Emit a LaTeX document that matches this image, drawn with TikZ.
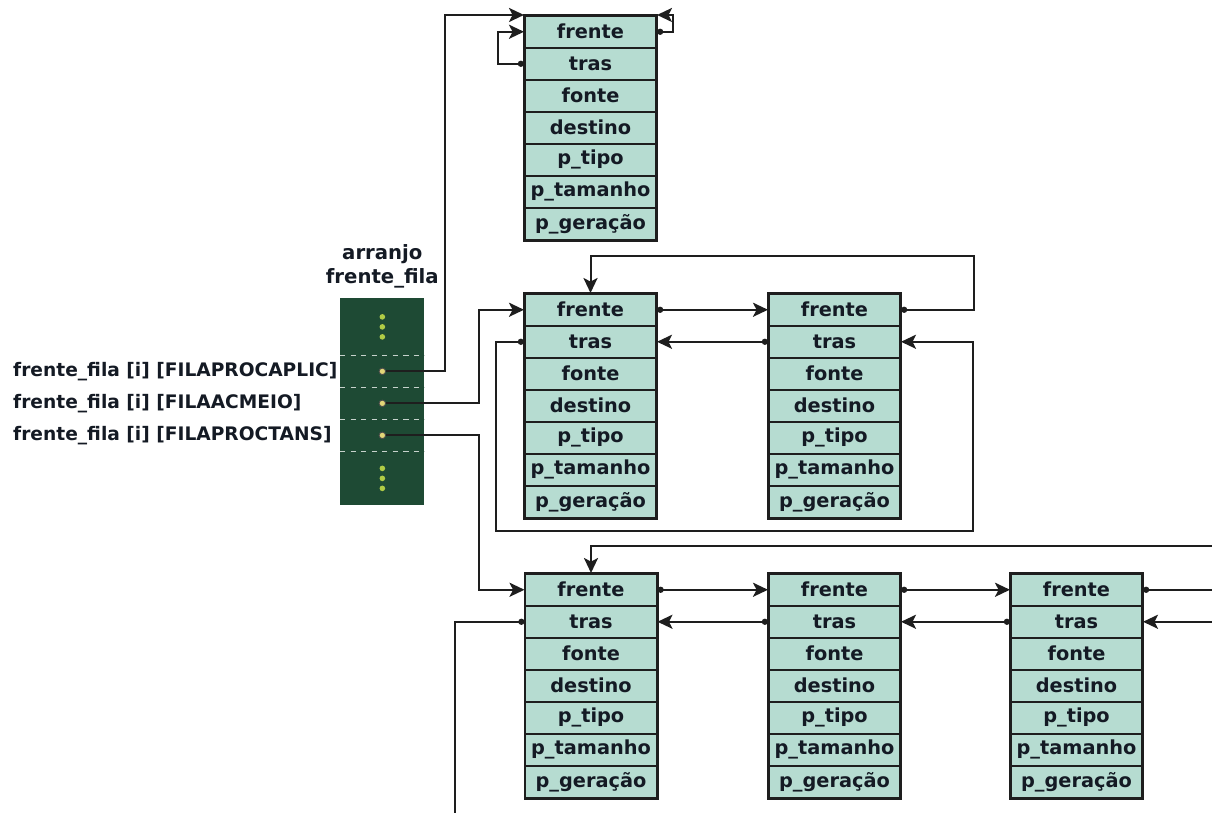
\documentclass[tikz,border=0pt]{standalone}
\usepackage{fontspec}
\setsansfont{DejaVu Sans}
\usetikzlibrary{arrows.meta,matrix}

\definecolor{celula}{RGB}{182,220,209}
\definecolor{verdearranjo}{RGB}{30,74,52}
\definecolor{linha}{RGB}{30,30,30}
\definecolor{texto}{RGB}{20,26,36}
\definecolor{ponto}{RGB}{226,214,120}
\definecolor{reticencia}{RGB}{176,204,70}

\tikzset{
	campo/.style={draw=linha, line width=0.9pt, fill=celula, minimum width=2.63cm, minimum height=0.64cm, inner sep=0pt, anchor=center, text=texto, font=\sffamily\bfseries\fontsize{11}{12}\selectfont},
	registro/.style={matrix of nodes, nodes={campo}, row sep=-0.9pt, inner sep=0pt, draw=linha, line width=1.1pt, anchor=north west},
	liga/.style={draw=linha, line width=1.15pt},
	seta/.style={liga, {Circle[length=3.5pt]}-{Stealth[length=8.5pt,width=8pt,inset=2pt]}},
	chega/.style={liga, -{Stealth[length=8.5pt,width=8pt,inset=2pt]}},
	sai/.style={liga, {Circle[length=3.5pt]}-},
	furo/.style={circle, fill=ponto, draw=black!70, line width=0.5pt, minimum size=0.13cm, inner sep=0pt},
	rotulo/.style={text=texto, font=\sffamily\bfseries\fontsize{10.6}{12}\selectfont},
}

\begin{document}
\begin{tikzpicture}
	\useasboundingbox (0,0) rectangle (24.24,-16.24);
	% registros das filas
	\matrix (aplic) [registro] at (10.46,-0.28) {
		frente \\ tras \\ fonte \\ destino \\ p\_tipo \\ p\_tamanho \\ p\_geração \\
	};
	\matrix (acmeio1) [registro] at (10.46,-5.84) {
		frente \\ tras \\ fonte \\ destino \\ p\_tipo \\ p\_tamanho \\ p\_geração \\
	};
	\matrix (acmeio2) [registro] at (15.34,-5.84) {
		frente \\ tras \\ fonte \\ destino \\ p\_tipo \\ p\_tamanho \\ p\_geração \\
	};
	\matrix (tans1) [registro] at (10.47,-11.44) {
		frente \\ tras \\ fonte \\ destino \\ p\_tipo \\ p\_tamanho \\ p\_geração \\
	};
	\matrix (tans2) [registro] at (15.34,-11.44) {
		frente \\ tras \\ fonte \\ destino \\ p\_tipo \\ p\_tamanho \\ p\_geração \\
	};
	\matrix (tans3) [registro] at (20.18,-11.44) {
		frente \\ tras \\ fonte \\ destino \\ p\_tipo \\ p\_tamanho \\ p\_geração \\
	};
	% arranjo frente_fila
	\matrix (vetor) [matrix of nodes, fill=verdearranjo, inner sep=0pt, anchor=north west, row sep=0pt, nodes={minimum width=1.68cm, minimum height=0.64cm, inner sep=0pt, anchor=center}] at (6.8,-5.96) {
		|[minimum height=1.14cm]| {} \\
		{} \\
		{} \\
		{} \\
		|[minimum height=1.08cm]| {} \\
	};
	\foreach \i in {1,...,4}
		\draw[white!75!verdearranjo, dashed, line width=0.6pt] (vetor-\i-1.south west) -- (vetor-\i-1.south east);
	\foreach \c in {vetor-1-1, vetor-5-1}
		\foreach \dy in {-0.2,0,0.2}
			\fill[reticencia] ([yshift=\dy cm]\c) circle (1.6pt);
	\node[rotulo, anchor=south, align=center, font=\sffamily\bfseries\fontsize{11.2}{12}\selectfont] (nome) at ([yshift=2pt]vetor.north) {arranjo\\[2pt]frente\_fila};
	\node[furo] (p1) at (vetor-2-1) {};
	\node[furo] (p2) at (vetor-3-1) {};
	\node[furo] (p3) at (vetor-4-1) {};
	\node[rotulo, anchor=west] (r1) at (0.14,0 |- vetor-2-1) {frente\_fila [i] [FILAPROCAPLIC]};
	\node[rotulo, anchor=west] (r2) at (0.14,0 |- vetor-3-1) {frente\_fila [i] [FILAACMEIO]};
	\node[rotulo, anchor=west] (r3) at (0.14,0 |- vetor-4-1) {frente\_fila [i] [FILAPROCTANS]};
	% ponteiros do arranjo
	\draw[chega] (p1.east) -| ([xshift=-1.58cm]aplic-1-1.north west) -- (aplic-1-1.north west);
	\draw[chega] (p2.east) -| ([xshift=-0.9cm]acmeio1-1-1.west) -- (acmeio1-1-1.west);
	\draw[chega] (p3.east) -| ([xshift=-0.9cm]tans1-1-1.west) -- (tans1-1-1.west);
	% fila com um registro
	\draw[seta] (aplic-2-1.west) -- ++(-0.52,0) |- (aplic-1-1.west);
	\draw[seta] (aplic-1-1.east) -- ++(0.32,0) |- (aplic-1-1.north east);
	% fila com dois registros
	\draw[seta] (acmeio1-1-1.east) -- (acmeio2-1-1.west);
	\draw[seta] (acmeio2-2-1.west) -- (acmeio1-2-1.east);
	\draw[seta] (acmeio2-1-1.east) -- ++(1.46,0) |- ([yshift=0.74cm]acmeio1-1-1.north) -- (acmeio1-1-1.north);
	\coordinate (voltaAC) at ([xshift=1.44cm,yshift=-0.24cm]acmeio2-7-1.south east);
	\draw[seta] (acmeio1-2-1.west) -- ++(-0.56,0) |- (voltaAC) |- (acmeio2-2-1.east);
	% fila com tres ou mais registros
	\draw[seta] (tans1-1-1.east) -- (tans2-1-1.west);
	\draw[seta] (tans2-1-1.east) -- (tans3-1-1.west);
	\draw[seta] (tans3-2-1.west) -- (tans2-2-1.east);
	\draw[seta] (tans2-2-1.west) -- (tans1-2-1.east);
	\coordinate (bordaTopo) at (24.3,-10.92);
	\coordinate (bordaFrente) at (tans3-1-1.east -| bordaTopo);
	\coordinate (bordaTras) at (tans3-2-1.east -| bordaTopo);
	\coordinate (bordaBaixo) at (9.1,-16.3);
	\draw[chega] (bordaTopo) -| (tans1-1-1.north);
	\draw[sai] (tans3-1-1.east) -- (bordaFrente);
	\draw[chega] (bordaTras) -- (tans3-2-1.east);
	\draw[sai] (tans1-2-1.west) -| (bordaBaixo);
\end{tikzpicture}
\end{document}
